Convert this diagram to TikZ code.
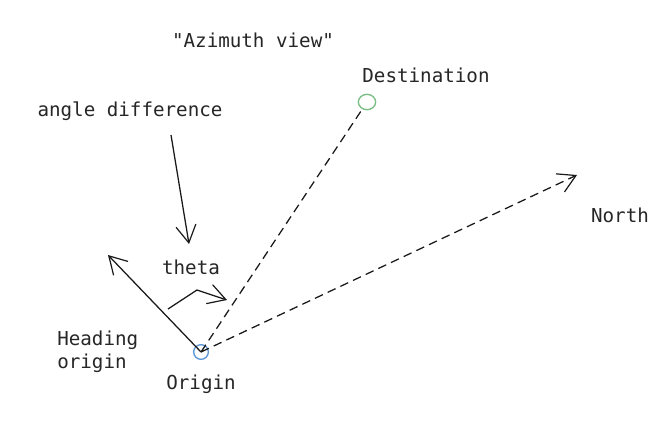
\documentclass[tikz,border=0pt]{standalone}
\usepackage{fontspec}
\setmonofont{DejaVu Sans Mono}
\usetikzlibrary{arrows.meta, shapes.geometric}
\definecolor{destgreen}{RGB}{120,190,130}
\definecolor{origblue}{RGB}{90,150,215}
\tikzset{
  lbl/.style={font=\ttfamily\fontsize{14.4}{17.5}\selectfont, text=black!85, inner sep=0pt},
  pt/.style={draw, ellipse, inner sep=0pt, line width=1pt},
  vee/.style={-{Straight Barb[length=13pt,width=15pt,line width=0.9pt]}},
  line/.style={black!90, line width=0.95pt},
  dsh/.style={dash pattern=on 6.5pt off 4pt}
}

\begin{document}
\begin{tikzpicture}[x=0.75pt, y=-0.75pt]
    \useasboundingbox (0,0) rectangle (670,428);
    % labels
    \node[lbl] (title) at (253,40) {"Azimuth view"};
    \node[lbl] (destlbl) at (426,75) {Destination};
    \node[lbl] (anglbl) at (130,111) {angle difference};
    \node[lbl] (thetalbl) at (191,267) {theta};
    \node[lbl] (northlbl) at (620,215) {North};
    \node[lbl, align=left, anchor=west] (headlbl) at (57,352) {Heading\\origin};
    \node[lbl] (origlbl) at (201,384) {Origin};
    % points
    \node[pt, draw=destgreen, minimum width=13pt, minimum height=11.5pt] (dest) at (367,102) {};
    \node[pt, draw=origblue, minimum width=11pt, minimum height=11pt] (orig) at (201,352) {};
    % free ends
    \coordinate (headend) at (108,255);
    \coordinate (northend) at (577,175);
    \coordinate (angstart) at (171,135);
    \coordinate (angend) at (189,244);
    \coordinate (thstart) at (168,309);
    \coordinate (thmid) at (197,290);
    \coordinate (thend) at (227,300);
    % connectors
    \draw[line, dsh] (orig.center) -- (dest);
    \draw[line, vee, dsh] (orig.center) -- (northend);
    \draw[line, vee] (orig.center) -- (headend);
    \draw[line, vee] (angstart) -- (angend);
    \draw[line, vee] (thstart) -- (thmid) -- (thend);
  \end{tikzpicture}
\end{document}
